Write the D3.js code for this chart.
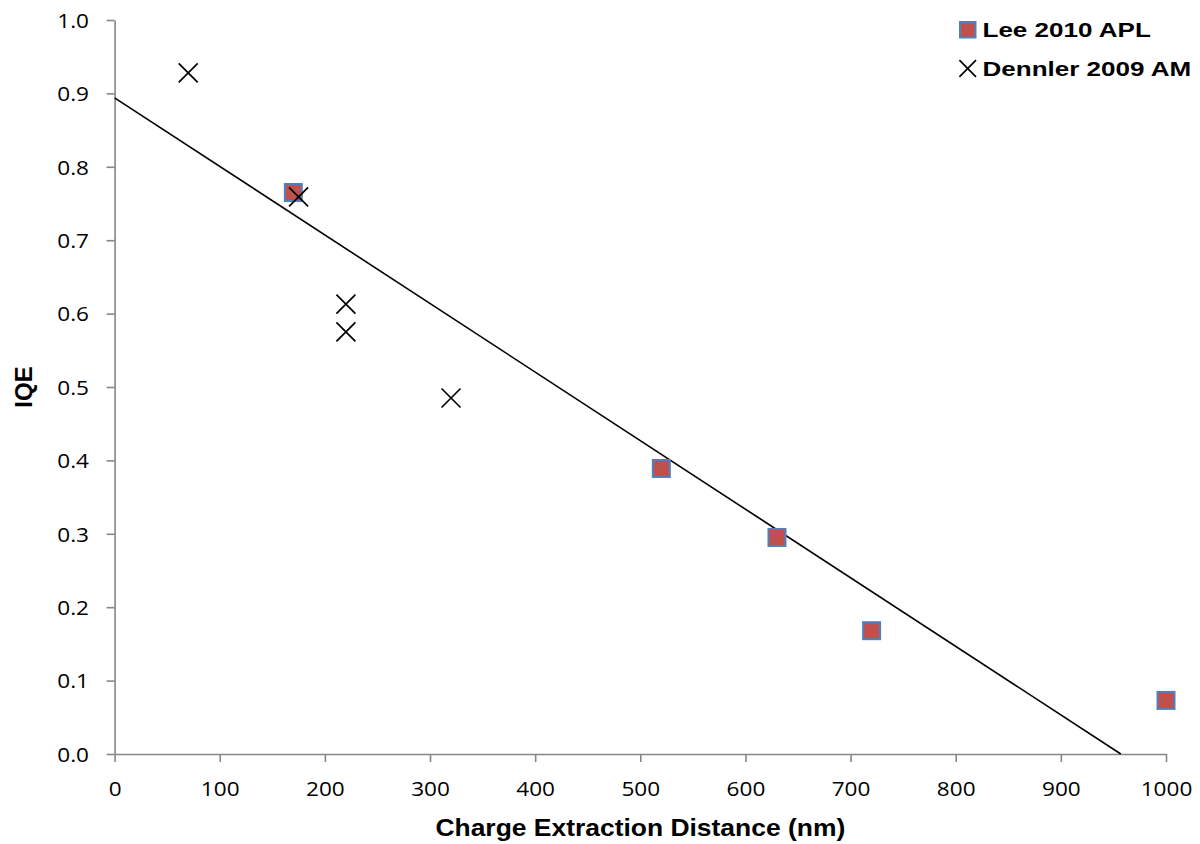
<!DOCTYPE html>
<html>
<head>
<meta charset="utf-8">
<script src="https://cdn.jsdelivr.net/npm/d3@7"></script>
<style>
  html, body { margin: 0; padding: 0; background: #fff; }
  svg { display: block; }
</style>
</head>
<body>
<svg id="chart" width="1200" height="844"></svg>
<script>
// ---- data ----
const leeX = [170, 520, 630, 720, 1000];
const leeY = [0.765, 0.389, 0.295, 0.168, 0.073];
const dennlerX = [70, 175, 220, 220, 320];
const dennlerY = [0.928, 0.759, 0.613, 0.575, 0.485];
const trendX = [0, 957];
const trendY = [0.894, 0];
const xTicks = [0, 100, 200, 300, 400, 500, 600, 700, 800, 900, 1000];
const yTicks = [0, 0.1, 0.2, 0.3, 0.4, 0.5, 0.6, 0.7, 0.8, 0.9, 1.0];
const seriesNames = ["Lee 2010 APL", "Dennler 2009 AM"];
const xTitle = "Charge Extraction Distance (nm)";
const yTitle = "IQE";

(function () {
// ---- layout ----
const svg = d3.select("#chart");
const mLeft = 114.6, mRight = 1166, mTop = 20, mBottom = 754;
const x = d3.scaleLinear().domain([0, 1000]).range([mLeft, mRight]);
const y = d3.scaleLinear().domain([0, 1]).range([mBottom, mTop]);
const axisColor = "#868686";
const tickFont = "'Open Sans', sans-serif";
const boldFont = "'Liberation Sans', Arial, sans-serif";
const sx = 1.13;

// y axis
const gy = svg.append("g").attr("transform", `translate(${mLeft},0)`)
  .call(d3.axisLeft(y).tickValues(yTicks).tickFormat(d3.format(".1f")).tickSize(8).tickSizeOuter(0));
gy.select(".domain").attr("stroke", axisColor).attr("stroke-width", 1.6);
gy.selectAll(".tick line").attr("stroke", axisColor).attr("stroke-width", 1.6);
gy.selectAll(".tick text")
  .attr("font-family", tickFont).attr("font-size", 20).attr("fill", "#000")
  .attr("x", -25.6 / sx).attr("dy", "0.36em")
  .attr("transform", `scale(${sx},1)`);

// x axis
const gx = svg.append("g").attr("transform", `translate(0,${mBottom})`)
  .call(d3.axisBottom(x).tickValues(xTicks).tickFormat(d3.format("d")).tickSize(8).tickSizeOuter(0));
gx.select(".domain").attr("stroke", axisColor).attr("stroke-width", 1.6);
gx.selectAll(".tick line").attr("stroke", axisColor).attr("stroke-width", 1.6);
gx.selectAll(".tick text")
  .attr("font-family", tickFont).attr("font-size", 20).attr("fill", "#000")
  .attr("y", 42).attr("dy", 0)
  .attr("transform", `scale(${sx},1)`);

// trend line
svg.append("line")
  .attr("x1", x(trendX[0])).attr("y1", y(trendY[0]))
  .attr("x2", x(trendX[1])).attr("y2", y(trendY[1]))
  .attr("stroke", "#000").attr("stroke-width", 1.6);

// Lee squares
const sq = 17;
svg.append("g").selectAll("rect").data(leeX.map((d, i) => [d, leeY[i]])).join("rect")
  .attr("x", d => x(d[0]) - sq / 2).attr("y", d => y(d[1]) - sq / 2)
  .attr("width", sq).attr("height", sq)
  .attr("fill", "#C0504D").attr("stroke", "#4F81BD").attr("stroke-width", 2);

// Dennler crosses
const cr = 9.5;
const crossPath = (cx, cy, r) => `M${cx - r},${cy - r}L${cx + r},${cy + r}M${cx - r},${cy + r}L${cx + r},${cy - r}`;
svg.append("g").selectAll("path").data(dennlerX.map((d, i) => [d, dennlerY[i]])).join("path")
  .attr("d", d => crossPath(x(d[0]), y(d[1]), cr))
  .attr("stroke", "#000").attr("stroke-width", 1.7).attr("fill", "none");

// legend
const lg = svg.append("g");
lg.append("rect").attr("x", 960).attr("y", 22).attr("width", 15.5).attr("height", 15.5)
  .attr("fill", "#C0504D").attr("stroke", "#4F81BD").attr("stroke-width", 2);
lg.append("path").attr("d", crossPath(967.7, 68.5, 8.3)).attr("stroke", "#000").attr("stroke-width", 1.7);
const legSx = 1.24;
[[37.4, seriesNames[0]], [76, seriesNames[1]]].forEach(([by, t]) => {
  lg.append("text").attr("transform", `translate(982.5,${by}) scale(${legSx},1)`)
    .attr("font-family", boldFont).attr("font-weight", "bold").attr("font-size", 21)
    .attr("fill", "#000").text(t);
});

// axis titles
svg.append("text").attr("transform", `translate(${(mLeft + mRight) / 2},836) scale(1.15,1)`)
  .attr("text-anchor", "middle").attr("font-family", boldFont).attr("font-weight", "bold")
  .attr("font-size", 23).attr("fill", "#000").text(xTitle);
svg.append("text").attr("transform", `translate(31.5,387) rotate(-90)`)
  .attr("text-anchor", "middle").attr("font-family", boldFont).attr("font-weight", "bold")
  .attr("font-size", 24).attr("fill", "#000").text(yTitle);
})();
</script>
</body>
</html>
